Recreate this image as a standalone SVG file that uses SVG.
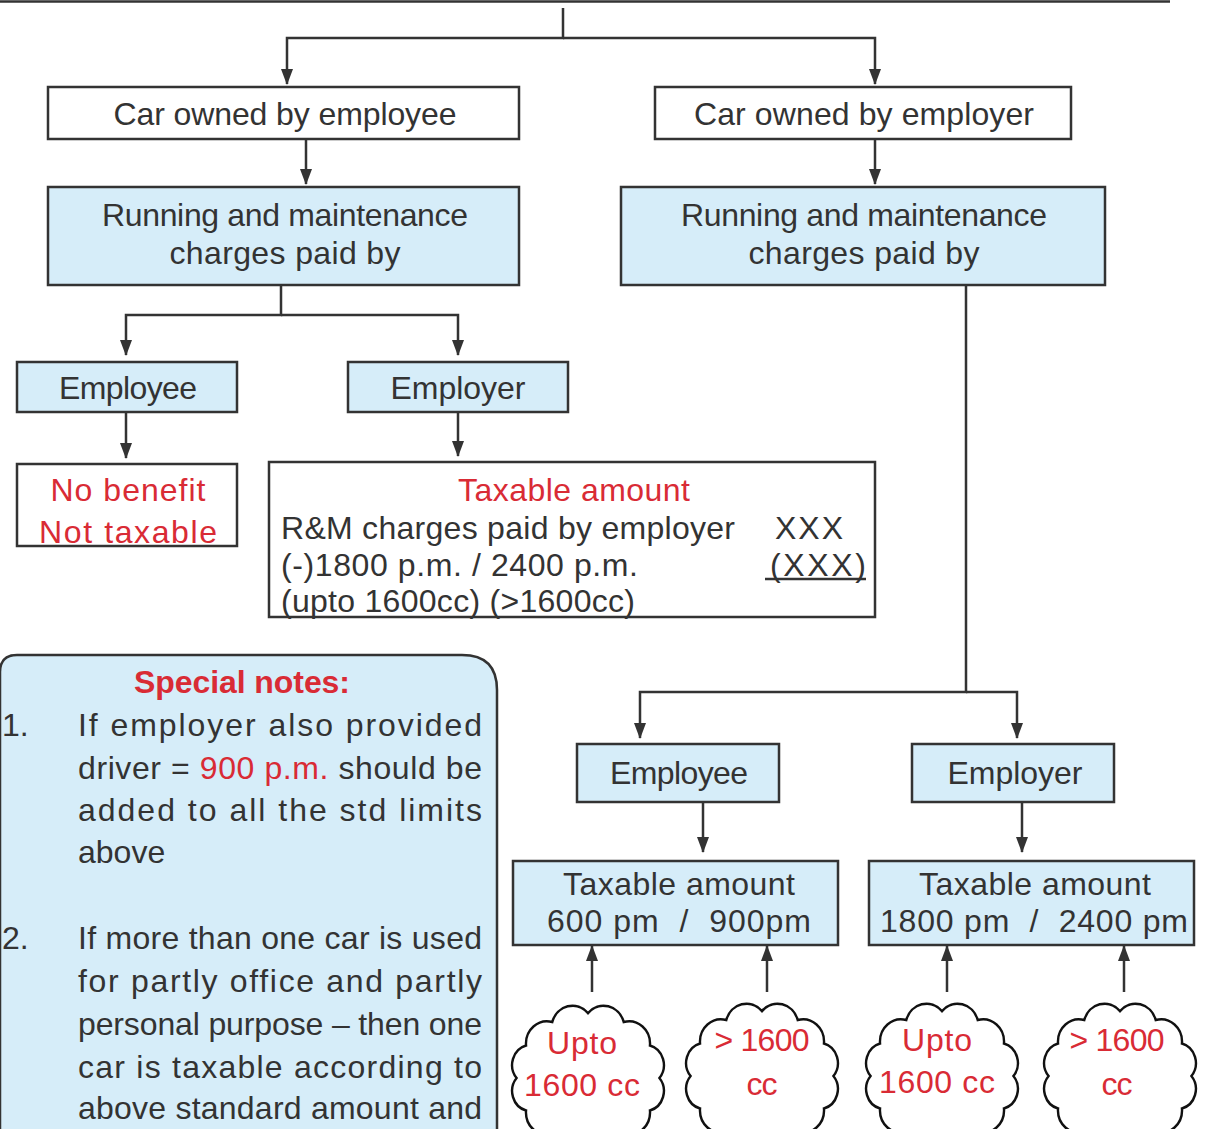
<svg xmlns="http://www.w3.org/2000/svg" width="1209" height="1129" viewBox="0 0 1209 1129">
<style>
.t{font-family:"Liberation Sans","Noto Sans",sans-serif;font-size:32px;fill:#333}
.c{text-anchor:middle}
.r{fill:#d92b35}
.b{stroke:#333;stroke-width:2.5;fill:#fff}
.bl{stroke:#333;stroke-width:2.5;fill:#d6edf9}
.ln{stroke:#333;stroke-width:2.5;fill:none}
.cl{stroke:#111;stroke-width:2.3;fill:#fff}
.n{font-size:32px}
</style>
<defs>
<marker id="ah" markerUnits="userSpaceOnUse" markerWidth="16" markerHeight="12" refX="15" refY="6" orient="auto">
<path d="M0,0 L16,6 L0,12 Z" fill="#333"/>
</marker>
<path id="cloud" d="M0,-58 A20,20 0 0 1 34,-50 A20,20 0 0 1 59,-29 A18,18 0 0 1 68,0 A18,18 0 0 1 59,29 A20,20 0 0 1 34,50 A20,20 0 0 1 0,58 A20,20 0 0 1 -34,50 A20,20 0 0 1 -59,29 A18,18 0 0 1 -68,0 A18,18 0 0 1 -59,-29 A20,20 0 0 1 -34,-50 A20,20 0 0 1 0,-58 Z"/>
</defs>
<rect width="1209" height="1129" fill="#fff"/>

<g id="connectors">
<line class="ln" x1="0" y1="1.5" x2="1170" y2="1.5" stroke-width="3"/>
<polyline class="ln" points="563,8 563,38 287,38 287,84" marker-end="url(#ah)"/>
<polyline class="ln" points="563,38 875,38 875,84" marker-end="url(#ah)"/>
<line class="ln" x1="306" y1="139" x2="306" y2="184" marker-end="url(#ah)"/>
<line class="ln" x1="875" y1="139" x2="875" y2="184" marker-end="url(#ah)"/>
<polyline class="ln" points="281,285 281,315 126,315 126,355" marker-end="url(#ah)"/>
<polyline class="ln" points="281,315 458,315 458,355" marker-end="url(#ah)"/>
<line class="ln" x1="126" y1="412" x2="126" y2="458" marker-end="url(#ah)"/>
<line class="ln" x1="458" y1="412" x2="458" y2="456" marker-end="url(#ah)"/>
<polyline class="ln" points="966,285 966,692 640,692 640,738" marker-end="url(#ah)"/>
<polyline class="ln" points="966,692 1017,692 1017,738" marker-end="url(#ah)"/>
<line class="ln" x1="703" y1="802" x2="703" y2="852" marker-end="url(#ah)"/>
<line class="ln" x1="1022" y1="802" x2="1022" y2="852" marker-end="url(#ah)"/>
<line class="ln" x1="592" y1="992" x2="592" y2="946" marker-end="url(#ah)"/>
<line class="ln" x1="767" y1="992" x2="767" y2="946" marker-end="url(#ah)"/>
<line class="ln" x1="947" y1="992" x2="947" y2="946" marker-end="url(#ah)"/>
<line class="ln" x1="1124" y1="992" x2="1124" y2="946" marker-end="url(#ah)"/>
</g>

<g id="car-employee">
<rect class="b" x="48" y="87" width="471" height="52"/>
<text class="t c" x="285" y="125" textLength="343">Car owned by employee</text>
</g>
<g id="car-employer">
<rect class="b" x="655" y="87" width="416" height="52"/>
<text class="t c" x="864" y="125" textLength="340">Car owned by employer</text>
</g>
<g id="rm-left">
<rect class="bl" x="48" y="187" width="471" height="98"/>
<text class="t c" x="285" y="226" textLength="366">Running and maintenance</text>
<text class="t c" x="285" y="264" textLength="231">charges paid by</text>
</g>
<g id="rm-right">
<rect class="bl" x="621" y="187" width="484" height="98"/>
<text class="t c" x="864" y="226" textLength="366">Running and maintenance</text>
<text class="t c" x="864" y="264" textLength="231">charges paid by</text>
</g>
<g id="employee-left">
<rect class="bl" x="17" y="362" width="220" height="50"/>
<text class="t c" x="128" y="399" textLength="138">Employee</text>
</g>
<g id="employer-left">
<rect class="bl" x="348" y="362" width="220" height="50"/>
<text class="t c" x="458" y="399" textLength="135">Employer</text>
</g>
<g id="no-benefit">
<rect class="b" x="17" y="464" width="220" height="82"/>
<text class="t c r" x="128" y="501" textLength="155">No benefit</text>
<text class="t c r" x="128" y="543" textLength="178">Not taxable</text>
</g>
<g id="taxable-rm">
<rect class="b" x="269" y="462" width="606" height="155"/>
<text class="t c r" x="574" y="501" textLength="232">Taxable amount</text>
<text class="t" x="281" y="539" textLength="454">R&amp;M charges paid by employer</text>
<text class="t" x="775" y="539" textLength="68">XXX</text>
<text class="t" x="281" y="576" textLength="357">(-)1800 p.m. / 2400 p.m.</text>
<text class="t" x="770" y="576" textLength="96">(XXX)</text>
<line class="ln" x1="765" y1="579" x2="866" y2="579" stroke-width="2"/>
<text class="t" x="281" y="612" textLength="354">(upto 1600cc) (&gt;1600cc)</text>
</g>
<g id="employee-right">
<rect class="bl" x="577" y="744" width="202" height="58"/>
<text class="t c" x="679" y="784" textLength="138">Employee</text>
</g>
<g id="employer-right">
<rect class="bl" x="912" y="744" width="202" height="58"/>
<text class="t c" x="1015" y="784" textLength="135">Employer</text>
</g>
<g id="taxable-employee">
<rect class="bl" x="513" y="861" width="325" height="84"/>
<text class="t c" x="679" y="895" textLength="232">Taxable amount</text>
<text class="t c" x="679" y="932" textLength="264" xml:space="preserve">600 pm  /  900pm</text>
</g>
<g id="taxable-employer">
<rect class="bl" x="869" y="861" width="325" height="84"/>
<text class="t c" x="1035" y="895" textLength="232">Taxable amount</text>
<text class="t c" x="1034" y="932" textLength="308" xml:space="preserve">1800 pm  /  2400 pm</text>
</g>
<g id="cloud1">
<use href="#cloud" class="cl" transform="translate(588,1078) scale(1.05,1.12)"/>
<text class="t c r" x="582" y="1054" textLength="70">Upto</text>
<text class="t c r" x="582" y="1096" textLength="116">1600 cc</text>
</g>
<g id="cloud2">
<use href="#cloud" class="cl" transform="translate(762,1076) scale(1.05,1.12)"/>
<text class="t c r" x="762" y="1051" textLength="95">&gt; 1600</text>
<text class="t c r" x="762" y="1095" textLength="31">cc</text>
</g>
<g id="cloud3">
<use href="#cloud" class="cl" transform="translate(942,1076) scale(1.05,1.12)"/>
<text class="t c r" x="937" y="1051" textLength="70">Upto</text>
<text class="t c r" x="937" y="1093" textLength="116">1600 cc</text>
</g>
<g id="cloud4">
<use href="#cloud" class="cl" transform="translate(1120,1076) scale(1.05,1.12)"/>
<text class="t c r" x="1117" y="1051" textLength="95">&gt; 1600</text>
<text class="t c r" x="1117" y="1095" textLength="31">cc</text>
</g>
<g id="special-notes">
<path d="M0,672 Q0,655 17,655 L462,655 Q497,655 497,690 L497,1140 L0,1140 Z" fill="#d6edf9" stroke="#333" stroke-width="2.5"/>
<text class="t c r" x="242" y="693" font-weight="bold" textLength="216">Special notes:</text>
<text class="t n" x="2" y="736">1.</text>
<text class="t n" x="78" y="736" textLength="404">If employer also provided</text>
<text class="t n" x="78" y="779" textLength="404">driver = <tspan class="r">900 p.m.</tspan> should be</text>
<text class="t n" x="78" y="821" textLength="404">added to all the std limits</text>
<text class="t n" x="78" y="863">above</text>
<text class="t n" x="2" y="949">2.</text>
<text class="t n" x="78" y="949" textLength="404">If more than one car is used</text>
<text class="t n" x="78" y="992" textLength="404">for partly office and partly</text>
<text class="t n" x="78" y="1035" textLength="404">personal purpose – then one</text>
<text class="t n" x="78" y="1078" textLength="404">car is taxable according to</text>
<text class="t n" x="78" y="1119" textLength="404">above standard amount and</text>
</g>
</svg>
